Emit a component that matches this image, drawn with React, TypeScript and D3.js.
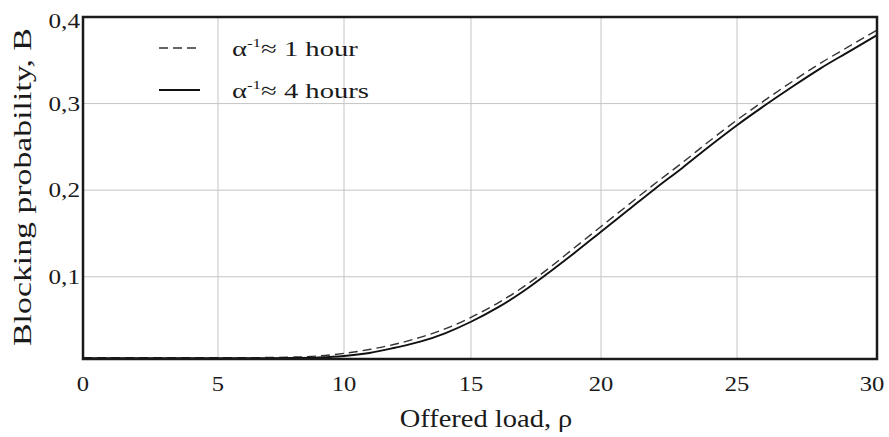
import React, { useEffect, useRef } from "react";
import * as d3 from "d3";

// offered load (x) and blocking probability of the two curves
const loads = [0, 2, 4, 6, 7, 8, 9, 10, 11, 12, 13, 14, 15, 16, 17, 18, 19, 20, 21, 22, 23, 24, 25, 26, 27, 28, 29, 30];
const oneHour = [0.0066, 0.0066, 0.0066, 0.0066, 0.0067, 0.0072, 0.0085, 0.0115, 0.016, 0.022, 0.030, 0.040, 0.053, 0.069, 0.088, 0.110, 0.134, 0.158, 0.183, 0.208, 0.232, 0.257, 0.281, 0.304, 0.326, 0.347, 0.366, 0.385];
const fourHours = [0.006, 0.006, 0.006, 0.006, 0.006, 0.0062, 0.0068, 0.0085, 0.012, 0.018, 0.025, 0.035, 0.048, 0.064, 0.083, 0.105, 0.128, 0.152, 0.177, 0.202, 0.226, 0.251, 0.275, 0.298, 0.320, 0.341, 0.360, 0.379];

const xTicks = [0, 5, 10, 15, 20, 25, 30];
const yTicks = [0.1, 0.2, 0.3, 0.4];
const legendLabels = ["1 hour", "4 hours"];

export default function App() {
  const ref = useRef<SVGSVGElement>(null);

  useEffect(() => {
    const svg = d3.select(ref.current);
    svg.selectAll("*").remove();

    const font = "'Liberation Serif', 'Times New Roman', serif";
    const ink = "#1a1a1a";

    // the original grid is a little uneven, so the x scale is piecewise
    const x = d3.scaleLinear()
      .domain(xTicks)
      .range([83, 218, 344, 471, 601, 737, 877]);
    const y = d3.scaleLinear().domain([0.005, 0.4]).range([359, 17]);

    const left = x(0), right = x(30), top = y(0.4), bottom = y(0.005);

    // grid
    svg.append("g")
      .selectAll("line")
      .data(xTicks.slice(1, -1))
      .join("line")
      .attr("x1", d => x(d)).attr("x2", d => x(d))
      .attr("y1", top).attr("y2", bottom)
      .attr("stroke", "#c4c4c4").attr("stroke-width", 1);

    svg.append("g")
      .selectAll("line")
      .data(yTicks.slice(0, -1))
      .join("line")
      .attr("x1", left).attr("x2", right)
      .attr("y1", d => y(d)).attr("y2", d => y(d))
      .attr("stroke", "#c4c4c4").attr("stroke-width", 1);

    // curves
    const line = d3.line<number>()
      .x((_, i) => x(loads[i]))
      .y(d => y(d))
      .curve(d3.curveMonotoneX);

    svg.append("path")
      .datum(oneHour)
      .attr("d", line)
      .attr("fill", "none")
      .attr("stroke", "#333")
      .attr("stroke-width", 1.4)
      .attr("stroke-dasharray", "9,5");

    svg.append("path")
      .datum(fourHours)
      .attr("d", line)
      .attr("fill", "none")
      .attr("stroke", "#111")
      .attr("stroke-width", 1.9);

    // frame
    svg.append("rect")
      .attr("x", left).attr("y", top)
      .attr("width", right - left).attr("height", bottom - top)
      .attr("fill", "none")
      .attr("stroke", ink)
      .attr("stroke-width", 2.5);

    // tick labels (the source font is wider than Times, so stretch a bit)
    svg.append("g")
      .selectAll("text")
      .data(xTicks)
      .join("text")
      .attr("transform", d => `translate(${d === 30 ? x(d) - 5 : x(d)},391) scale(1.17,1)`)
      .attr("text-anchor", "middle")
      .attr("font-family", font)
      .attr("font-size", 21)
      .attr("fill", ink)
      .text(d => String(d));

    svg.append("g")
      .selectAll("text")
      .data(yTicks)
      .join("text")
      .attr("transform", d => `translate(80,${y(d) + (d === 0.4 ? 11 : 7)}) scale(1.2,1)`)
      .attr("text-anchor", "end")
      .attr("font-family", font)
      .attr("font-size", 21)
      .attr("fill", ink)
      .text(d => d3.format(".1f")(d).replace(".", ","));

    // axis titles
    svg.append("text")
      .attr("transform", "translate(486,427) scale(1.14,1)")
      .attr("text-anchor", "middle")
      .attr("font-family", font)
      .attr("font-size", 25)
      .attr("fill", ink)
      .text("Offered load, ρ");

    svg.append("text")
      .attr("transform", "translate(31,187) rotate(-90) scale(1.3,1)")
      .attr("text-anchor", "middle")
      .attr("font-family", font)
      .attr("font-size", 26)
      .attr("fill", ink)
      .text("Blocking probability, B");

    // legend
    const legend = svg.append("g");
    legendLabels.forEach((label, i) => {
      const cy = 48 + i * 42;
      legend.append("line")
        .attr("x1", 159).attr("x2", 200)
        .attr("y1", cy).attr("y2", cy)
        .attr("stroke", i === 0 ? "#333" : "#111")
        .attr("stroke-width", i === 0 ? 1.4 : 1.9)
        .attr("stroke-dasharray", i === 0 ? "9,5" : null);

      const t = legend.append("text")
        .attr("transform", `translate(232,${cy + 8}) scale(1.3,1)`)
        .attr("font-family", font)
        .attr("font-size", 22)
        .attr("fill", ink);
      t.append("tspan").text("α");
      t.append("tspan").attr("font-size", 13).attr("dy", -9).text("-1");
      t.append("tspan").attr("dy", 9).text("≈ " + label);
    });
  }, []);

  return (
    <svg
      ref={ref}
      width={889}
      height={437}
      style={{ position: "absolute", left: 0, top: 0, display: "block", background: "#fff" }}
    />
  );
}
